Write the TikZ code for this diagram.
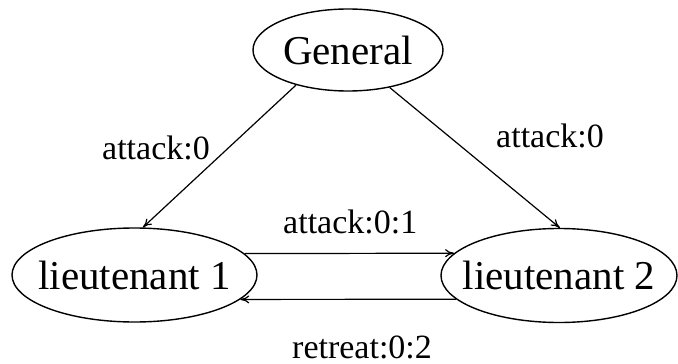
\documentclass[tikz,border=0pt]{standalone}
\usepackage{fontspec}
\setmainfont{Liberation Serif}
\usetikzlibrary{shapes.geometric,arrows.meta}
\begin{document}
\begin{tikzpicture}[x=1pt,y=-1pt,
  state/.style={ellipse,draw,line width=1.4pt,inner sep=0pt,minimum height=94pt,font=\fontsize{41}{41}\selectfont},
  lbl/.style={anchor=base west,inner sep=0pt,font=\fontsize{34}{34}\selectfont},
  arr/.style={line width=1.2pt,-{To[length=9pt,width=8pt]}}]
\useasboundingbox (0,0) rectangle (678,364);
\node[state,minimum width=190pt,minimum height=82pt] (G) at (348,50) {\makebox[0pt]{General}};
\node[state,minimum width=245pt] (L1) at (134.5,275) {\makebox[0pt]{lieutenant 1}};
\node[state,minimum width=236pt] (L2) at (559,275.5) {\makebox[0pt]{lieutenant 2}};
\draw[arr] (G.214) -- (L1.80);
\draw[arr] (G.318) -- (L2.89);
\draw[arr] (L1.11.5) -- (L2.168.1);
\draw[arr] (L2.193.3) -- (L1.347.2);
\node[lbl] (la) at (102,159) {attack:0};
\node[lbl] (lb) at (496,147) {attack:0};
\node[lbl] (lc) at (283,233) {attack:0:1};
\node[lbl] (ld) at (292,358) {retreat:0:2};
\end{tikzpicture}
\end{document}
